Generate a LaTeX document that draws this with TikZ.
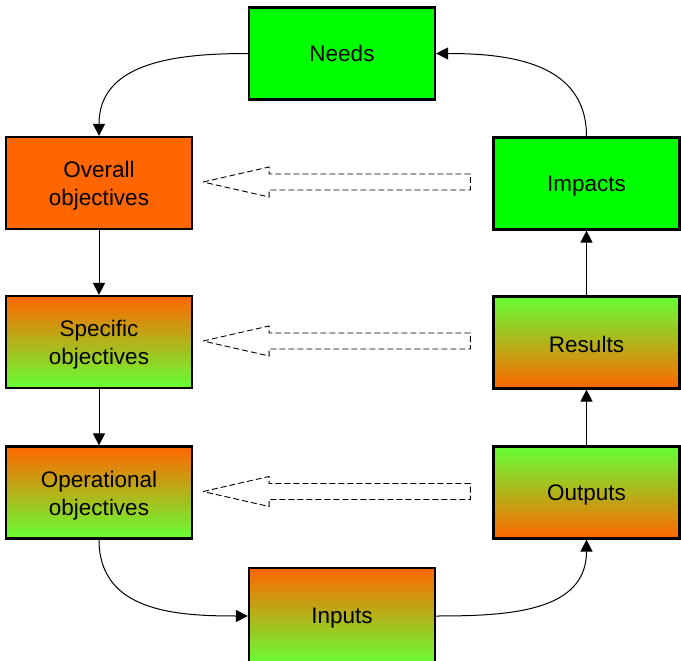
\documentclass[tikz,border=0pt]{standalone}
\usepackage{fontspec}
\setmainfont{Liberation Sans}
\usetikzlibrary{arrows.meta,calc}
\definecolor{boxorange}{HTML}{FF6600}
\definecolor{boxgreen}{HTML}{00FF00}
\definecolor{limegreen}{HTML}{66FF33}
\begin{document}
\begin{tikzpicture}[x=1pt,y=-1pt,
  stagebox/.style={draw=black,line width=2.2pt,minimum width=186pt,minimum height=92pt,inner sep=0pt},
  plaingreen/.style={stagebox,fill=boxgreen},
  plainorange/.style={stagebox,fill=boxorange},
  downfade/.style={stagebox,top color=boxorange,bottom color=limegreen},
  upfade/.style={stagebox,top color=limegreen,bottom color=boxorange},
  stagetext/.style={align=center,inner sep=0pt,font=\fontsize{22.5}{28}\selectfont},
  flow/.style={line width=1pt,-{Triangle[length=12pt,width=12pt]}},
  feedback/.style={line width=0.9pt,dash pattern=on 6pt off 3pt}]
\clip (0,0) rectangle (681,661);
\fill[white] (0,0) rectangle (681,661);

% stages of the cycle
\node[plaingreen]  (needs)   at (342,53.5)    {};
\node[plainorange] (overall) at (99,183)      {};
\node[downfade]    (spec)    at (99,342)      {};
\node[downfade]    (oper)    at (99,492.5)    {};
\node[downfade,minimum height=96pt] (inputs) at (342,616) {};
\node[plaingreen]  (impacts) at (586.5,183.5) {};
\node[upfade]      (results) at (586.5,342.5) {};
\node[upfade]      (outputs) at (586.5,492.5) {};

% captions, set slightly below the box centres
\foreach \b/\d/\t in {needs/0/Needs,overall/3/{Overall\\objectives},spec/3/{Specific\\objectives},
                   oper/3/{Operational\\objectives},inputs/2.5/Inputs,impacts/2.5/Impacts,
                   results/1.5/Results,outputs/2/Outputs}
  \node[stagetext] (\b-text) at ($(\b.center)+(0,\d)$) {\t};

% planning side
\draw[flow] (needs.west) to[out=180,in=90,looseness=1.1] (overall.north);
\draw[flow] (overall.south) -- (spec.north);
\draw[flow] (spec.south) -- (oper.north);
\draw[flow] (oper.south) to[out=-90,in=180,looseness=1.1] (inputs.west);

% delivery side
\draw[flow] (inputs.east) to[out=0,in=-90,looseness=1.1] (outputs.south);
\draw[flow] (outputs.north) -- (results.south);
\draw[flow] (results.north) -- (impacts.south);
\draw[flow] (impacts.north) to[out=90,in=0,looseness=1.1] (needs.east);

% hollow dashed feedback arrows from results to objectives
\foreach \src/\dst in {impacts/overall,results/spec,outputs/oper}{
  \coordinate (t) at ($(\dst.east)+(10,-1)$);
  \coordinate (r) at ($(\src.west)+(-22,-1)$);
  \draw[feedback]
    (t) -- ++(66,-15) -- ++(0,7) -- (r |- {$(t)+(0,-8)$}) -- ++(0,16)
        -- ($(t)+(66,8)$) -- ++(0,7) -- cycle;
}
\end{tikzpicture}
\end{document}
